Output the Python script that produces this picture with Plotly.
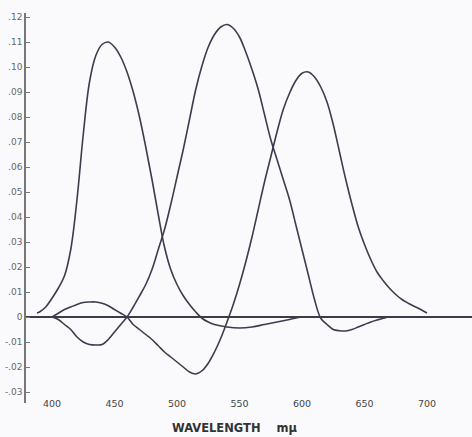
import plotly.graph_objects as go

# Wavelengths (m-mu) and the three colour-mixture curves
wl_blue = [388, 390, 395, 400, 405, 410, 415, 420, 425, 430, 435, 440, 445, 450,
           455, 460, 465, 470, 475, 480, 485, 490, 495, 500, 505, 510, 515, 520,
           525, 530, 540, 550, 560, 570, 580, 590, 600, 620, 640, 660, 680, 700]
blue = [0.0016, 0.002, 0.004, 0.0075, 0.0115, 0.0165, 0.027, 0.047, 0.073, 0.094,
        0.1045, 0.109, 0.110, 0.108, 0.104, 0.098, 0.090, 0.080, 0.068, 0.055,
        0.041, 0.028, 0.019, 0.013, 0.0085, 0.005, 0.002, -0.0005, -0.002,
        -0.003, -0.004, -0.0044, -0.004, -0.003, -0.002, -0.001, 0.0, 0.0, 0.0,
        0.0, 0.0, 0.0]

wl_green = [400, 405, 410, 415, 420, 425, 430, 436, 440, 445, 450, 455, 460, 465,
            470, 475, 480, 485, 490, 495, 500, 505, 510, 515, 520, 525, 530, 535,
            540, 545, 550, 555, 560, 565, 570, 575, 580, 585, 590, 595, 600, 605,
            610, 615, 620, 625, 630, 635, 640, 645, 650, 655, 660, 665, 670, 685,
            700]
green = [0.0, -0.001, -0.003, -0.005, -0.008, -0.010, -0.011, -0.0112, -0.011,
         -0.009, -0.006, -0.003, 0.0, 0.004, 0.0084, 0.013, 0.019, 0.027, 0.035,
         0.045, 0.056, 0.067, 0.079, 0.091, 0.1005, 0.108, 0.113, 0.116, 0.117,
         0.1155, 0.112, 0.106, 0.099, 0.091, 0.081, 0.071, 0.063, 0.055, 0.047,
         0.037, 0.027, 0.017, 0.007, -0.0005, -0.003, -0.005, -0.0055, -0.0056,
         -0.005, -0.004, -0.003, -0.002, -0.0012, -0.0005, 0.0, 0.0, 0.0]

wl_red = [400, 405, 410, 415, 420, 425, 430, 435, 440, 445, 450, 455, 460, 465,
          470, 475, 480, 485, 490, 495, 500, 505, 510, 515, 520, 525, 530, 535,
          540, 545, 550, 555, 560, 565, 570, 575, 580, 585, 590, 595, 600, 605,
          610, 615, 620, 625, 630, 635, 640, 645, 650, 655, 660, 665, 670, 675,
          680, 685, 690, 695, 700]
red = [0.0, 0.0015, 0.003, 0.004, 0.005, 0.0058, 0.006, 0.006, 0.0055, 0.0045,
       0.003, 0.0015, 0.0, -0.003, -0.005, -0.007, -0.009, -0.0115, -0.014,
       -0.016, -0.018, -0.020, -0.022, -0.0228, -0.0215, -0.0185, -0.014, -0.0085,
       -0.002, 0.005, 0.013, 0.022, 0.032, 0.043, 0.054, 0.064, 0.074, 0.083,
       0.0895, 0.0945, 0.0975, 0.098, 0.096, 0.092, 0.086, 0.077, 0.066, 0.055,
       0.045, 0.036, 0.029, 0.023, 0.018, 0.0145, 0.0115, 0.009, 0.007, 0.0055,
       0.0042, 0.003, 0.0016]

ytick_vals = [0.12, 0.11, 0.10, 0.09, 0.08, 0.07, 0.06, 0.05, 0.04, 0.03, 0.02,
              0.01, 0.0, -0.01, -0.02, -0.03]
ytick_text = [".12", ".11", ".10", ".09", ".08", ".07", ".06", ".05", ".04",
              ".03", ".02", ".01", "0", "-.01", "-.02", "-.03"]
xtick_vals = [400, 450, 500, 550, 600, 650, 700]
xtick_text = ["400", "450", "500", "550", "600", "650", "700"]
x_title = "WAVELENGTH    m\u03bc"

X_RANGE = [379.2, 736.0]
Y_RANGE = [-0.0344, 0.1216]
CURVE = "#3c3c4e"

fig = go.Figure()
for xs, ys in [(wl_blue, blue), (wl_green, green), (wl_red, red)]:
    fig.add_trace(go.Scatter(x=xs, y=ys, mode="lines",
                             line=dict(color=CURVE, width=1.6, shape="spline",
                                       smoothing=1.0),
                             hoverinfo="skip", showlegend=False))

zero_frac = (0 - Y_RANGE[0]) / (Y_RANGE[1] - Y_RANGE[0])

fig.update_layout(
    width=472, height=437,
    margin=dict(l=26, r=0, t=13, b=34, autoexpand=False),
    paper_bgcolor="#fafafc", plot_bgcolor="#fafafc",
    showlegend=False,
    font=dict(family="DejaVu Sans", color="#555"),
    xaxis=dict(range=X_RANGE, showgrid=False, zeroline=False, showline=False,
               ticks="", tickvals=xtick_vals, ticktext=xtick_text,
               tickfont=dict(size=9.5, color="#444"), automargin=False,
               anchor="free", position=0.016),
    xaxis2=dict(range=X_RANGE, overlaying="x", anchor="free", position=zero_frac,
                showgrid=False, zeroline=False, showline=False,
                ticks="inside", ticklen=4, tickwidth=1, tickcolor="#555",
                tickvals=xtick_vals, showticklabels=False, automargin=False),
    yaxis=dict(range=Y_RANGE, showgrid=False, showline=True, linecolor="#777",
               linewidth=1.5, ticks="inside", ticklen=4, tickcolor="#777",
               tickvals=ytick_vals, ticktext=ytick_text, automargin=False,
               tickfont=dict(size=9, color="#666"),
               zeroline=True, zerolinecolor="#3d3d4a", zerolinewidth=1.5),
    annotations=[dict(text=x_title, xref="paper", yref="paper",
                      x=0.469, y=-0.064, xanchor="center", yanchor="middle",
                      showarrow=False,
                      font=dict(family="DejaVu Sans", size=11.5, color="#333",
                                weight="bold"))],
)

fig.write_html("out.html", config={"displayModeBar": False},
               post_script="document.body.style.margin='0';"
                           "document.body.style.overflow='hidden';")
